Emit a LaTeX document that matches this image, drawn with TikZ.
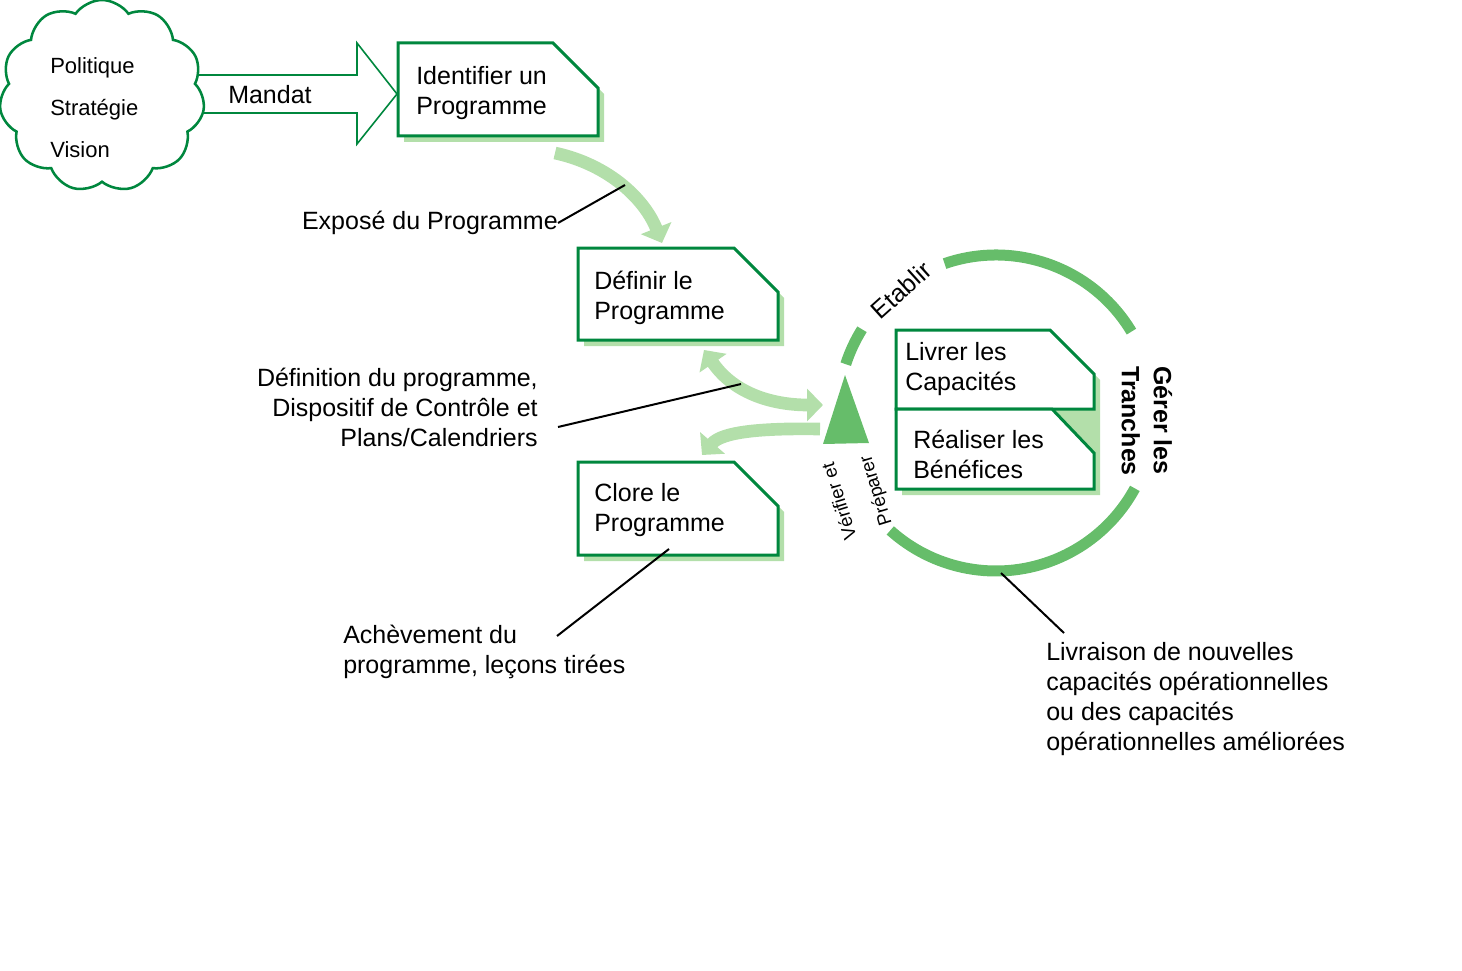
\documentclass[tikz,border=0pt]{standalone}
\usepackage{fontspec}
\setmainfont{Liberation Sans}
\usetikzlibrary{arrows.meta,shapes.symbols}
\definecolor{boxgreen}{RGB}{0,135,62}
\definecolor{lightgreen}{RGB}{179,223,170}
\definecolor{midgreen}{RGB}{102,189,106}
\begin{document}
\begin{tikzpicture}[x=0.75pt,y=-0.75pt,
  txt/.style={font=\fontsize{18.75pt}{22.5pt}\selectfont, inner sep=0pt, align=left, text=black},
  smalltxt/.style={font=\fontsize{16.5pt}{20pt}\selectfont, inner sep=0pt, align=left},
  tinytxt/.style={font=\fontsize{14pt}{16pt}\selectfont, inner sep=0pt},
  boxline/.style={draw=boxgreen, line width=2.25pt, fill=white},
  shade/.style={fill=lightgreen, draw=none},
  flow/.style={draw=lightgreen, line width=9.5pt, -{Triangle[length=12pt,width=24pt]}},
  ring/.style={draw=midgreen, line width=8.25pt},
  pointer/.style={draw=black, line width=1.5pt},
]
\useasboundingbox (0,0) rectangle (1462,970);

% Mandat arrow
\draw[draw=boxgreen, line width=1.2pt, fill=white] (190,75) -- (357,75) -- (357,43) -- (397,94) -- (357,144) -- (357,113) -- (190,113) -- cycle;
% cloud
\node[cloud, cloud puffs=11, cloud puff arc=110, aspect=1.05, draw=boxgreen, line width=1.9pt, fill=white, minimum width=154pt, minimum height=144pt, inner sep=0pt] (cloud) at (102,96) {};
\node[smalltxt, anchor=west, font=\fontsize{16.5pt}{31.5pt}\selectfont] (pol) at (50,108) {Politique\\Stratégie\\Vision};
\node[txt, anchor=west] (mandat) at (228,95) {Mandat};

% Identifier box
\fill[shade] (404,49) -- (559,49) -- (604,94) -- (604,142) -- (404,142) -- cycle;
\draw[boxline] (398,43) -- (553,43) -- (598,88) -- (598,136) -- (398,136) -- cycle;
\node[txt, anchor=west] (ident) at (416,93) {Identifier un\\Programme};

% Definir box
\fill[shade] (584,254) -- (740,254) -- (784,298) -- (784,346) -- (584,346) -- cycle;
\draw[boxline] (578,248) -- (734,248) -- (778,292) -- (778,340) -- (578,340) -- cycle;
\node[txt, anchor=west] (definir) at (594,298) {Définir le\\Programme};

% Clore box
\fill[shade] (584,468) -- (740,468) -- (784,512) -- (784,561) -- (584,561) -- cycle;
\draw[boxline] (578,462) -- (734,462) -- (778,506) -- (778,555) -- (578,555) -- cycle;
\node[txt, anchor=west] (clore) at (594,510) {Clore le\\Programme};

% Livrer / Realiser boxes
\fill[shade] (902,336) -- (1056,336) -- (1100,380) -- (1100,495) -- (902,495) -- cycle;
\draw[boxline] (896,330) -- (1050,330) -- (1094,374) -- (1094,409) -- (896,409) -- cycle;
\draw[boxline] (896,409) -- (1052,409) -- (1094,453) -- (1094,489) -- (896,489) -- cycle;
\node[txt, anchor=west] (livrer) at (905,369) {Livrer les\\Capacités};
\node[txt, anchor=west] (realiser) at (913,454) {Réaliser les\\Bénéfices};

% ring
\coordinate (cc) at (996,413);
\draw[ring] (cc) ++(31:118.5pt) arc[start angle=31, end angle=109, radius=118.5pt];
\draw[ring] (cc) ++(148:118.5pt) arc[start angle=148, end angle=162, radius=118.5pt];
\draw[ring] (cc) ++(228:118.5pt) arc[start angle=228, end angle=331.5, radius=118.5pt];
\fill[midgreen] (823,444) -- (869,443) -- (845,375) -- cycle;

\node[txt, rotate=42] (etablir) at (901,290) {Etablir};
\node[txt, font=\bfseries\fontsize{18.75pt}{24pt}\selectfont, rotate=-90] (gerer) at (1147,421) {Gérer les\\Tranches};
\node[tinytxt, rotate=107, anchor=base west] (verif) at (857,538) {Vérifier et};
\node[tinytxt, rotate=107, anchor=base west] (prep) at (892,524) {Préparer};

% flow arrows
\coordinate (a1s) at (555,153);
\coordinate (a1e) at (662,243);
\draw[flow] (a1s) .. controls (610,165) and (645,200) .. (a1e);
\coordinate (a2s) at (704,350);
\coordinate (a2e) at (823,405);
\draw[flow, {Triangle[length=12pt,width=24pt]}-{Triangle[length=12pt,width=24pt]}] (a2s) .. controls (735,395) and (775,405) .. (a2e);
\coordinate (a3s) at (820,429);
\coordinate (a3e) at (702,455);
\draw[flow] (a3s) .. controls (760,428) and (722,432) .. (a3e);

% labels and pointers
\node[txt, anchor=east] (expose) at (558,223) {Exposé du Programme};
\coordinate (p1) at (625,185);
\draw[pointer] (expose.east) -- (p1);

\node[txt, anchor=east, align=right] (defprog) at (538,407) {Définition du programme,\\Dispositif de Contrôle et\\Plans/Calendriers};
\coordinate (p2s) at (558,427);
\coordinate (p2) at (741,384);
\draw[pointer] (p2s) -- (p2);

\node[txt, anchor=west] (acheve) at (343,652) {Achèvement du\\programme, leçons tirées};
\coordinate (p3s) at (557,636);
\coordinate (p3) at (669,549);
\draw[pointer] (p3s) -- (p3);

\node[txt, anchor=west] (livraison) at (1046,699) {Livraison de nouvelles\\capacités opérationnelles\\ou des capacités\\opérationnelles améliorées};
\coordinate (p4s) at (1001,573);
\coordinate (p4) at (1064,633);
\draw[pointer] (p4s) -- (p4);
\end{tikzpicture}
\end{document}
